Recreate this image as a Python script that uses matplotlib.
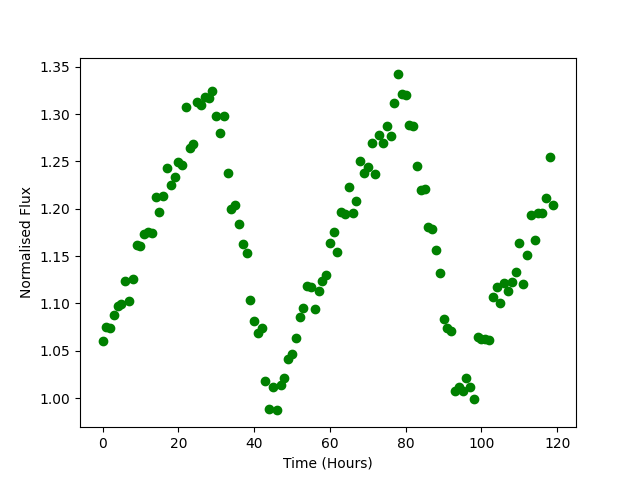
import matplotlib
matplotlib.use('Agg')
import matplotlib.pyplot as plt

hours = list(range(120))
flux = [
    1.060, 1.075, 1.074, 1.088, 1.097, 1.099, 1.124, 1.103, 1.126, 1.162,
    1.161, 1.173, 1.175, 1.174, 1.212, 1.197, 1.213, 1.243, 1.225, 1.234,
    1.249, 1.246, 1.308, 1.264, 1.268, 1.313, 1.310, 1.318, 1.317, 1.324,
    1.298, 1.280, 1.298, 1.238, 1.200, 1.204, 1.184, 1.163, 1.153, 1.104,
    1.081, 1.069, 1.074, 1.018, 0.988, 1.012, 0.987, 1.014, 1.021, 1.041,
    1.047, 1.064, 1.086, 1.095, 1.118, 1.117, 1.094, 1.113, 1.124, 1.130,
    1.164, 1.175, 1.154, 1.197, 1.194, 1.223, 1.196, 1.208, 1.251, 1.238,
    1.244, 1.270, 1.237, 1.278, 1.269, 1.288, 1.277, 1.312, 1.342, 1.321,
    1.320, 1.289, 1.288, 1.245, 1.220, 1.221, 1.181, 1.179, 1.156, 1.132,
    1.084, 1.074, 1.071, 1.008, 1.012, 1.008, 1.021, 1.012, 0.999, 1.065,
    1.062, 1.062, 1.061, 1.107, 1.117, 1.100, 1.122, 1.113, 1.123, 1.133,
    1.164, 1.121, 1.151, 1.193, 1.167, 1.196, 1.196, 1.211, 1.255, 1.204,
]

plt.figure(figsize=(6.4, 4.8), dpi=100)
plt.plot(hours, flux, 'go')
plt.xlabel('Time (Hours)')
plt.ylabel('Normalised Flux')
plt.savefig('out.png')
